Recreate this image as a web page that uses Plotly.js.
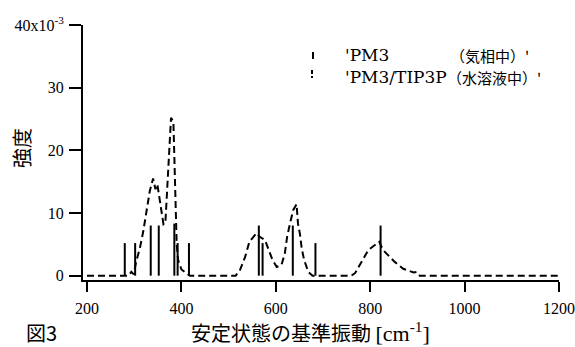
<!DOCTYPE html>
<html>
<head>
<meta charset="utf-8">
<script src="https://cdn.plot.ly/plotly-3.0.1.min.js"></script>
<style>html,body{margin:0;padding:0;background:#fff;}#chart{width:575px;height:347px;}</style>
</head>
<body>
<div id="chart"></div>
<script>
// Stick spectrum: PM3 (gas phase), intensity x10^-3
const stickX = [280, 302, 335, 352, 385, 392, 416, 564, 572, 636, 684, 822];
const stickY = [5.2, 5.2, 8.0, 8.0, 8.3, 5.2, 5.2, 8.0, 5.2, 8.0, 5.2, 8.0];

// Continuous spectrum: PM3/TIP3P (aqueous), intensity x10^-3
const solX = [200, 288, 294, 299, 304, 312, 319, 326, 333, 340, 345, 349, 354, 358, 362, 366, 371, 375, 378, 383, 385, 387, 390, 393, 400, 410, 418,
              515, 524, 535, 544, 559, 566, 577, 586, 593, 602, 612, 619, 624, 630, 637, 644, 647, 651, 655, 660, 669, 678,
              760, 768, 784, 796, 819, 824, 831, 842, 852, 870, 892, 898, 905, 1200];
const solY = [0, 0, 0.6, 0.2, 2.2, 4.4, 7.0, 10.2, 13.5, 15.5, 13.8, 14.6, 11.8, 9.6, 8.2, 8.4, 15.0, 22.0, 25.2, 24.6, 18.0, 10.0, 5.0, 2.5, 1.0, 0.4, 0,
              0, 0.9, 3.0, 5.4, 6.8, 6.2, 5.7, 4.0, 2.5, 1.4, 1.7, 3.5, 6.2, 8.3, 10.5, 11.4, 8.3, 6.7, 4.3, 2.5, 0.6, 0,
              0, 0.4, 2.5, 4.1, 5.4, 4.6, 3.8, 3.0, 2.2, 1.1, 0.5, 0.6, 0, 0];

const xTicks = [200, 400, 600, 800, 1000, 1200];
const yTicks = [0, 10, 20, 30, 40];
const yTickText = ['0', '10', '20', '30', '40x10<sup>-3</sup>'];
const seriesNames = ["'PM3", "（気相中）'", "'PM3/TIP3P", "（水溶液中）'"];
const xTitle = '安定状態の基準振動 <span style="font-family:Liberation Serif;font-size:22px">[cm<sup>-1</sup>]</span>';

const SERIF = 'Liberation Serif';
const LEGSERIF = 'DejaVu Serif';
const CJK = 'Noto Sans CJK JP';

// plot area in pixels
const L = 83, R = 559, T = 25, B = 280;
const px = x => (x - L) / (R - L);
const py = y => (B - y) / (B - T);

const sx = [], sy = [];
stickX.forEach((x, i) => { sx.push(x, x, null); sy.push(0, stickY[i], null); });

const traces = [
  {x: solX, y: solY, type: 'scatter', mode: 'lines', name: 'PM3/TIP3P(水溶液中)',
   line: {color: '#000', width: 2, dash: '7px,4px'}, showlegend: false, hoverinfo: 'skip'},
  {x: sx, y: sy, type: 'scatter', mode: 'lines', name: 'PM3 (気相中)',
   line: {color: '#000', width: 2}, showlegend: false, hoverinfo: 'skip'}
];

const layout = {
  width: 575, height: 347,
  margin: {l: L, r: 575 - R, t: T, b: 347 - B},
  paper_bgcolor: '#fff', plot_bgcolor: '#fff',
  showlegend: false,
  xaxis: {
    range: [191.5, 1200], tickvals: xTicks, ticktext: xTicks.map(String),
    showgrid: false, zeroline: false, showline: true, linecolor: '#000', linewidth: 2,
    ticks: 'outside', ticklen: 10, tickwidth: 2, tickcolor: '#000', ticklabelstandoff: 3,
    tickfont: {family: SERIF, size: 16, color: '#000'}
  },
  yaxis: {
    range: [-0.69, 40], tickvals: yTicks, ticktext: yTickText,
    showgrid: false, zeroline: false, showline: true, linecolor: '#000', linewidth: 2,
    ticks: 'outside', ticklen: 12, tickwidth: 2, tickcolor: '#000', ticklabelstandoff: 2,
    tickfont: {family: SERIF, size: 16, color: '#000'}
  },
  annotations: [
    {xref: 'paper', yref: 'paper', x: px(310), y: py(332), text: xTitle, showarrow: false,
     font: {family: CJK, size: 20, color: '#000'}, xanchor: 'center', yanchor: 'middle'},
    {xref: 'paper', yref: 'paper', x: px(21), y: py(148), text: '強度', textangle: -90, showarrow: false,
     font: {family: CJK, size: 20, color: '#000'}, xanchor: 'center', yanchor: 'middle'},
    {xref: 'paper', yref: 'paper', x: px(24), y: py(332), text: '図3', showarrow: false,
     font: {family: CJK, size: 20, color: '#000'}, xanchor: 'left', yanchor: 'middle'},
    {xref: 'paper', yref: 'paper', x: px(343), y: py(55), text: seriesNames[0], showarrow: false,
     font: {family: LEGSERIF, size: 17, color: '#000'}, xanchor: 'left', yanchor: 'middle'},
    {xref: 'paper', yref: 'paper', x: px(448), y: py(55), text: seriesNames[1], showarrow: false,
     font: {family: CJK, size: 15, color: '#000'}, xanchor: 'left', yanchor: 'middle'},
    {xref: 'paper', yref: 'paper', x: px(343), y: py(77), text: seriesNames[2], showarrow: false,
     font: {family: LEGSERIF, size: 17, color: '#000'}, xanchor: 'left', yanchor: 'middle'},
    {xref: 'paper', yref: 'paper', x: px(445), y: py(77), text: seriesNames[3], showarrow: false,
     font: {family: CJK, size: 15, color: '#000'}, xanchor: 'left', yanchor: 'middle'}
  ],
  shapes: [
    {type: 'line', xref: 'paper', yref: 'paper', x0: px(313), x1: px(313), y0: py(52), y1: py(59),
     line: {color: '#000', width: 2}},
    {type: 'line', xref: 'paper', yref: 'paper', x0: px(312), x1: px(312), y0: py(70), y1: py(78),
     line: {color: '#000', width: 2, dash: '4px,2px'}}
  ]
};

Plotly.newPlot('chart', traces, layout, {staticPlot: true, displayModeBar: false});
</script>
</body>
</html>
